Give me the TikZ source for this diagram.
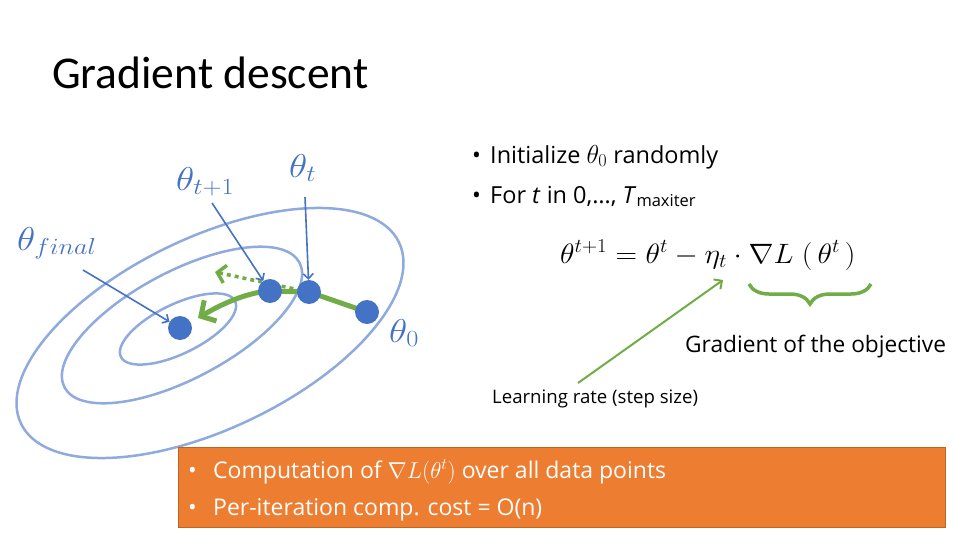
\RequirePackage{fix-cm}
\documentclass[tikz,border=0pt]{standalone}
\usepackage[no-math]{fontspec}
\setmainfont{Carlito}[Ligatures=NoCommon]
\newfontfamily\uifont{Open Sans}[Ligatures=NoCommon]
\usetikzlibrary{arrows.meta,decorations.pathreplacing}
\definecolor{dotblue}{HTML}{4472C4}
\definecolor{ringblue}{HTML}{8FAADC}
\definecolor{pathgreen}{HTML}{70AD47}
\definecolor{boxorange}{HTML}{ED7D31}
\definecolor{boxedge}{HTML}{C0651F}
\newcommand{\widelbl}[1]{\scalebox{1.14}[1]{#1}}
\begin{document}
\begin{tikzpicture}[x=1pt,y=-1pt,
  ring/.style={draw=ringblue, line width=2.5pt},
  gdot/.style={circle, fill=dotblue, inner sep=0pt, minimum size=24pt},
  pointer/.style={draw=dotblue, line width=1.6pt, -{Straight Barb[length=5pt,width=10pt]}},
  lbl/.style={text=dotblue, font=\fontsize{33}{40}\selectfont, inner sep=0pt, anchor=base west},
  bigpath/.style={draw=pathgreen, line width=5pt, line join=round, -{Straight Barb[length=11pt,width=24pt]}},
  dotpath/.style={draw=pathgreen, line width=3.5pt, dash pattern=on 4pt off 4pt, -{Straight Barb[length=8pt,width=18pt]}},
  txt/.style={font=\uifont\fontsize{23.5}{28}\selectfont, inner sep=0pt, anchor=base west},
  boxtxt/.style={font=\uifont\fontsize{23}{28}\selectfont, text=white, inner sep=0pt, anchor=base west}
]
\useasboundingbox (0,0) rectangle (954,533);

% title
\node[font=\fontsize{45.5}{55}\selectfont, inner sep=0pt, anchor=base west] (title) at (52,88) {Gradient descent};

% contour ellipses
\draw[ring, rotate around={26:(178,329)}] (178,329) ellipse [x radius=63.5pt, y radius=24.7pt];
\draw[ring, rotate around={28:(182,325)}] (182,325) ellipse [x radius=133pt, y radius=53.5pt];
\draw[ring, rotate around={25.6:(210,333)}] (210,333) ellipse [x radius=209.6pt, y radius=95.6pt];

% iterate positions
\coordinate (p0) at (367,312);
\coordinate (pt) at (309,292);
\coordinate (pt1) at (270,291);
\coordinate (pfin) at (180,328);
\coordinate (dottip) at (215,272);
\coordinate (bigtip) at (198,318);

% green steps
\draw[dotpath] (pt) -- (dottip);
\draw[bigpath] (p0) -- (pt) -- (pt1) .. controls (250,292) and (225,302) .. (bigtip);

% dots
\node[gdot] (d0) at (p0) {};
\node[gdot] (dt) at (pt) {};
\node[gdot] (dt1) at (pt1) {};
\node[gdot] (dfin) at (pfin) {};

% labels
\node[lbl] (lfin) at (17,250) {\widelbl{$\theta_{final}$}};
\node[lbl] (lt1) at (176,190) {\widelbl{$\theta_{t+1}$}};
\node[lbl] (lt) at (289,177) {\widelbl{$\theta_{t}$}};
\node[lbl] (l0) at (389,342) {\widelbl{$\theta_{0}$}};

\coordinate (tfin) at (83,270);
\coordinate (tt1) at (212,203);
\coordinate (tt) at (305,197);
\draw[pointer] (tfin) -- (dfin);
\draw[pointer] (tt1) -- (dt1);
\draw[pointer] (tt) -- (dt);

% right text
\node[txt] (b1) at (472,163) {\textbullet};
\node[txt] (i1) at (490,163) {Initialize {\fontsize{26}{30}\selectfont$\theta_0$} randomly};
\node[txt] (b2) at (472,203) {\textbullet};
\node[txt] (i2) at (490,203) {For \textit{t} in 0,\dots, \textit{T}\textsubscript{maxiter}};

\node[font=\fontsize{28}{33}\selectfont, inner sep=0pt, anchor=base west] (eq) at (560,263)
  {\scalebox{1.07}[1]{$\theta^{t+1} = \theta^t - \eta_t \cdot \nabla L\;(\,\theta^t\,)$}};

\draw[pathgreen, line width=3.5pt, decorate, decoration={brace, amplitude=20pt, mirror}] (749,284) -- (871,284);
\node[font=\uifont\fontsize{22.7}{27}\selectfont, inner sep=0pt, anchor=base west] (grad) at (685,352) {Gradient of the objective};

\node[font=\uifont\fontsize{18.6}{22}\selectfont, inner sep=0pt, anchor=base west] (lr) at (492,403) {Learning rate (step size)};
\coordinate (lrtail) at (578,383);
\coordinate (etatip) at (723,280);
\draw[draw=pathgreen, line width=2pt, -{Straight Barb[length=6pt,width=12pt]}] (lrtail) -- (etatip);

% orange box
\node[draw=boxedge, line width=0.8pt, fill=boxorange, inner sep=0pt, minimum width=767pt, minimum height=80pt, anchor=north west] (box) at (178,447) {};
\node[boxtxt] (ob1) at (188,478) {\textbullet};
\node[boxtxt] (o1) at (213,478) {Computation of $\nabla L(\theta^t)$ over all data points};
\node[boxtxt] (ob2) at (188,515) {\textbullet};
\node[boxtxt] (o2) at (213,515) {Per-iteration comp. cost = O(n)};
\end{tikzpicture}
\end{document}
